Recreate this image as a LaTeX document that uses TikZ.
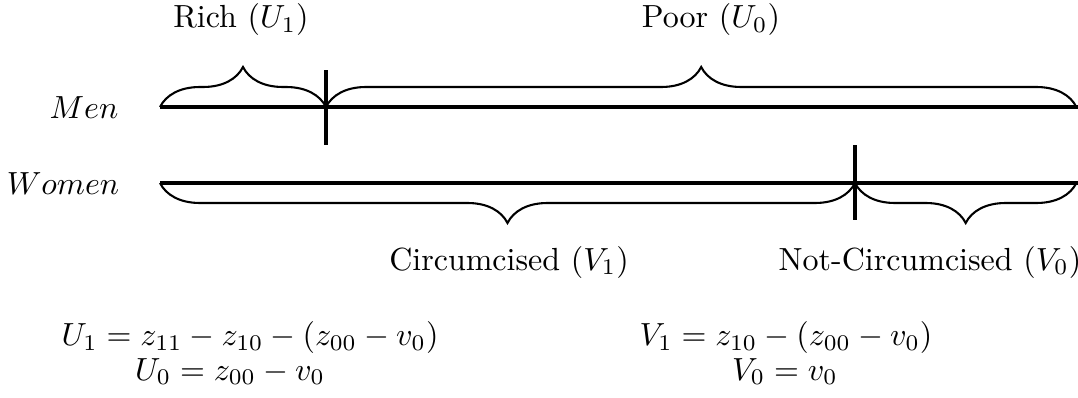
\documentclass[tikz,border=0pt]{standalone}
\usetikzlibrary{decorations.pathreplacing}
\begin{document}
\begin{tikzpicture}[x=0.3125pt,y=-0.3125pt,
  axisline/.style={line width=0.95pt},
  tickline/.style={line width=0.95pt},
  bracetop/.style={decorate,decoration={brace,amplitude=12.5pt},line width=0.65pt},
  bracebot/.style={decorate,decoration={brace,amplitude=12.5pt,mirror},line width=0.65pt},
  lbl/.style={inner sep=0pt}]
\useasboundingbox (0,0) rectangle (1078,398);
% coordinates
\coordinate (mL) at (160,107);
\coordinate (mM) at (326,107);
\coordinate (mR) at (1078,107);
\coordinate (wL) at (160,183);
\coordinate (wM) at (855,183);
\coordinate (wR) at (1078,183);
\coordinate (mT1) at (326,70);
\coordinate (mT2) at (326,145);
\coordinate (wT1) at (855,145);
\coordinate (wT2) at (855,220);
% lines
\draw[axisline] (mL) -- (mR);
\draw[axisline] (wL) -- (wR);
\draw[tickline] (mT1) -- (mT2);
\draw[tickline] (wT1) -- (wT2);
% braces
\draw[bracetop] (mL) -- (mM);
\draw[bracetop] (mM) -- ([xshift=-0.5pt]mR);
\draw[bracebot] (wL) -- (wM);
\draw[bracebot] (wM) -- ([xshift=-0.5pt]wR);
% labels
\node[lbl] (rich) at (241,20) {Rich ($U_1$)};
\node[lbl] (poor) at (711,20) {Poor ($U_0$)};
\node[lbl] (men) at (84,108) {$Men$};
\node[lbl] (women) at (63,184) {$Women$};
\node[lbl] (circ) at (509,262) {Circumcised ($V_1$)};
\node[lbl] (notcirc) at (930,262) {Not-Circumcised ($V_0$)};
\node[lbl,anchor=base] (u1) at (250,346) {$U_1 = z_{11} - z_{10} - (z_{00} - v_0)$};
\node[lbl,anchor=base] (u0) at (230,380) {$U_0 = z_{00} - v_0$};
\node[lbl,anchor=base] (v1) at (786,346) {$V_1 = z_{10} - (z_{00} - v_0)$};
\node[lbl,anchor=base] (v0) at (785,380) {$V_0 = v_0$};
\end{tikzpicture}
\end{document}
